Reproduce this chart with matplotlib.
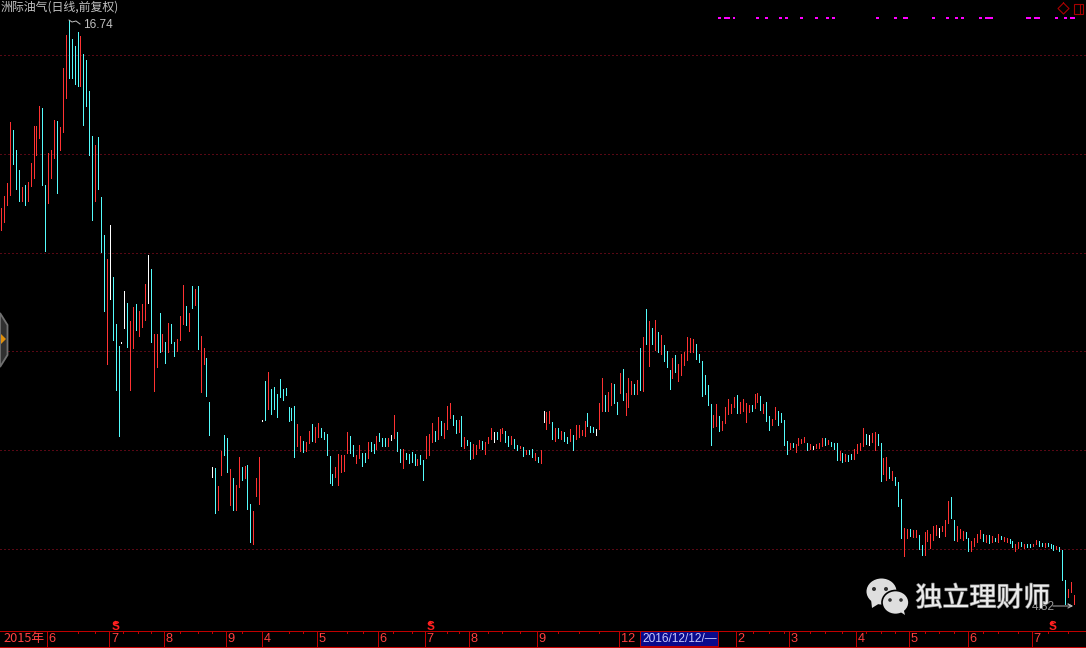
import matplotlib
matplotlib.use("Agg")
import numpy as np
import matplotlib.pyplot as plt
from matplotlib.patches import Ellipse, Polygon, Rectangle
import matplotlib.patheffects as pe

plt.rcParams['lines.scale_dashes'] = False
CJK = ['Noto Sans CJK SC', 'DejaVu Sans']

# ---------- data ----------
highs = [
 12.91,13.15,13.42,14.66,14.50,14.09,13.68,13.34,13.38,13.44,
 13.83,14.58,14.58,14.99,14.95,13.38,14.03,14.09,14.70,14.68,
 14.56,15.76,16.44,16.74,16.35,16.21,16.50,16.41,16.05,15.93,
 15.29,14.37,14.19,14.35,13.13,12.36,11.87,12.56,11.50,10.54,
 10.09,10.17,11.21,10.97,10.60,10.89,10.95,10.81,10.95,11.36,
 11.95,11.66,10.34,10.34,10.77,10.34,10.17,10.56,10.54,10.17,
 10.23,10.71,11.34,10.91,10.77,11.32,11.25,11.32,10.30,10.05,
 9.85,8.95,7.63,7.61,7.24,7.95,8.28,8.22,7.59,7.40,
 7.26,7.83,7.63,7.65,7.67,6.87,6.73,7.40,7.83,8.58,
 9.38,9.56,9.21,9.26,9.11,9.42,9.21,9.24,8.85,8.83,
 8.87,8.50,8.26,8.15,8.13,8.36,8.50,8.44,8.52,8.42,
 8.34,8.30,7.85,7.48,7.63,7.89,7.87,7.87,8.34,8.26,
 8.07,7.87,8.07,7.91,7.91,8.13,8.13,8.09,8.26,8.32,
 8.22,8.22,8.22,8.28,8.69,8.34,7.99,7.99,7.91,7.89,
 7.93,7.89,7.79,7.87,7.77,8.26,8.30,8.52,8.36,8.64,
 8.56,8.52,8.87,8.93,8.69,8.58,8.58,8.66,8.24,8.17,
 8.13,8.09,8.07,8.17,8.15,8.13,8.24,8.42,8.34,8.34,
 8.40,8.42,8.36,8.26,8.26,8.19,8.07,8.05,8.03,7.97,
 7.97,7.99,7.91,7.83,7.97,8.77,8.75,8.77,8.54,8.42,
 8.42,8.36,8.34,8.24,8.40,8.28,8.48,8.48,8.38,8.56,
 8.73,8.46,8.44,8.40,8.93,9.44,9.09,9.15,9.34,9.32,
 8.95,9.54,9.63,9.13,9.44,9.38,9.32,9.40,10.05,10.27,
 10.85,10.60,10.46,10.62,10.38,10.32,10.11,9.99,9.60,9.85,
 9.91,9.73,9.93,9.97,10.27,10.25,10.23,10.13,9.93,9.79,
 9.50,9.30,8.91,8.69,8.91,8.66,8.56,8.85,9.01,8.91,
 9.05,9.09,8.95,9.01,8.93,8.89,8.89,9.11,9.13,9.07,
 8.91,8.95,8.66,8.60,8.85,8.77,8.73,8.58,8.15,8.11,
 8.11,8.09,8.22,8.19,8.24,8.11,8.09,8.05,8.09,8.11,
 8.22,8.22,8.17,8.13,8.11,8.11,7.95,7.91,7.89,7.87,
 7.89,7.99,8.09,8.11,8.42,8.30,8.28,8.32,8.34,8.30,
 8.11,7.81,7.83,7.63,7.54,7.42,7.32,6.97,6.38,6.36,
 6.36,6.34,6.34,6.24,6.03,6.30,6.34,6.26,6.42,6.44,
 6.38,6.42,6.54,6.93,7.01,6.54,6.42,6.36,6.32,6.30,
 6.18,6.11,6.18,6.26,6.34,6.26,6.24,6.24,6.22,6.18,
 6.26,6.22,6.20,6.18,6.15,6.11,6.05,6.09,6.09,6.05,
 6.05,6.05,6.05,6.13,6.11,6.07,6.07,6.07,6.05,6.03,
 6.01,5.99,5.93,5.32,5.13,5.28,5.01]

lows = [
 12.46,12.62,12.97,13.17,13.81,13.29,13.05,13.05,12.97,13.05,
 13.36,13.52,13.99,14.33,13.38,12.03,13.01,13.52,13.93,13.21,
 14.09,14.46,15.15,15.56,15.56,15.44,15.40,15.40,14.60,14.99,
 13.99,12.66,13.05,13.29,12.01,10.81,9.73,11.05,10.21,9.19,
 8.26,10.15,10.46,10.07,9.19,10.05,10.42,10.30,10.48,10.62,
 10.97,10.17,9.17,9.67,9.97,9.99,9.75,9.97,10.15,9.89,
 9.99,10.21,10.54,10.52,10.40,10.87,10.93,10.03,9.15,9.73,
 9.07,8.28,7.42,6.69,6.75,7.46,7.87,7.52,6.85,6.75,
 6.75,7.22,7.36,7.40,6.77,6.09,6.05,7.03,6.87,8.56,
 8.58,8.81,8.71,8.81,8.64,9.05,8.99,9.09,8.56,8.58,
 7.83,8.05,7.95,7.93,7.95,8.11,8.15,8.13,8.24,8.24,
 8.19,7.87,7.30,7.26,7.42,7.26,7.52,7.54,7.91,7.91,
 7.85,7.71,7.81,7.65,7.73,7.81,7.95,7.91,7.99,8.15,
 8.05,8.05,8.05,8.17,8.22,7.95,7.73,7.61,7.79,7.71,
 7.73,7.67,7.67,7.69,7.36,7.81,7.87,8.13,8.15,8.19,
 8.28,8.22,8.40,8.62,8.48,8.32,8.34,8.05,8.01,8.07,
 7.79,7.81,7.89,8.01,7.99,7.89,8.11,8.19,8.13,8.19,
 8.15,8.32,8.13,8.05,8.09,8.01,7.97,8.01,7.85,7.89,
 7.89,7.83,7.77,7.73,7.71,8.54,8.40,8.52,8.19,8.15,
 8.22,8.19,8.15,8.11,8.15,7.97,8.19,8.24,8.28,8.26,
 8.46,8.34,8.34,8.28,8.40,8.77,8.77,8.77,8.89,8.93,
 8.71,9.13,8.99,8.69,8.85,9.11,9.11,9.11,9.19,9.17,
 10.13,9.69,10.13,10.01,9.97,9.93,9.79,9.67,9.21,9.44,
 9.56,9.38,9.50,9.71,9.81,9.97,9.97,9.83,9.77,9.07,
 9.11,8.89,8.07,8.44,8.46,8.36,8.38,8.52,8.71,8.73,
 8.85,8.73,8.73,8.77,8.54,8.75,8.77,8.83,8.95,8.79,
 8.73,8.56,8.38,8.48,8.60,8.48,8.54,8.07,7.89,7.99,
 8.03,7.93,8.07,8.11,8.13,7.97,7.99,7.99,8.01,8.01,
 8.05,8.07,8.09,8.05,7.99,7.77,7.77,7.73,7.75,7.75,
 7.79,7.79,7.91,7.97,8.05,8.09,8.07,8.13,7.97,8.07,
 7.34,7.48,7.36,7.40,7.36,7.26,6.83,6.18,5.81,6.18,
 6.22,6.20,6.20,5.95,5.83,5.83,6.11,5.97,6.13,6.24,
 6.20,6.32,6.22,6.48,6.59,6.13,6.11,6.18,6.13,6.18,
 5.91,5.91,6.01,6.09,6.18,6.11,6.09,6.07,6.09,6.11,
 6.09,6.15,6.11,6.09,6.07,5.99,5.91,5.97,6.01,5.97,
 5.99,5.99,6.01,6.05,6.01,6.01,5.99,6.01,5.97,5.93,
 5.95,5.91,5.32,4.83,4.97,5.07,4.82]

directions = (
 "rrrrcccrcr" "rrrrccrrrc" "rrrccccrcc" "ccrcccrwcc" "cwwcrrcrrr"
 "wcrrcrcrcc" "rrrcrcrcrr" "ccwcrrccrc" "rrcrccrrrw" "crcccccccc"
 "crrcrrcrrc" "ccccrrrrrc" "crrccrccrc" "ccrwrccrcc" "ccrccrrrcr"
 "crrrccrcrc" "crrrcrrrwc" "rrccrccrcr" "ccrcrwrrcr" "crccrcrrrr"
 "cccwrrcrrc" "crcrrrcrcr" "crcrcrcccr" "crrrrrrccc" "cccrrcrrrr"
 "rcrrrrcrrc" "rccrrccccr" "crrrrcrwrr" "rcrcccrcrc" "crrrrcwrrc"
 "crrcrcccrr" "crrccrrrrr" "wrrrccrrrc" "crrrrcrcrc" "rcrrccrrcr"
 "ccrrccrccc" "rcccrrr"
)

signal_bars = [245,247,248,250,258,261,266,268,273,278,282,284,299,305,308,309,
               318,323,326,328,334,336,337,338,350,351,353,354,360,363,365,366]
signal_level = 16.78

grid_levels = [16.02, 14.00, 11.98, 9.98, 7.96, 5.96]

month_labels = ['2015年','6','7','8','9','4','5','6','7','8','9','12','2','3','4','5','6','7']
month_bars = [0,15.6,36.8,55.5,76.7,89.0,107.7,128.5,144.6,159.6,182.8,210.7,250.7,268.8,291.6,309.7,329.8,351.7]
minor_bars = [26,32,41.5,46.5,51,61,67,72,82,98,103,118,123.5,133.5,140,152,156,166,171,177,190,197,204,
              256.5,262,267,276,281,287,295,300,305,315,320,325,335,340,347,357,364]
selected_label = '2016/12/12/—'
selected_span = (217.9, 244.7)
sell_bars = [39, 146.3, 358.5]
hi_label, lo_label = '16.74', '4.82'

RED, CYAN, WHITE = '#ff3232', '#54fcfc', '#ffffff'
palette = {'r': RED, 'c': CYAN, 'w': WHITE}

# ---------- figure ----------
fig = plt.figure(figsize=(10.86, 6.48), dpi=100, facecolor='black')
ax = fig.add_axes([0, 18/648, 1, 630/648], facecolor='black')
ax.axis('off')
x0, x1 = -0.4435, 370.1
ax.set_xlim(x0, x1)
ax.set_ylim(4.298, 17.15)

# dotted guides: one pixel every four pixels
ax.hlines(grid_levels, x0, x1, colors='#b01028', lw=0.72, linestyles=(0, (0.72, 2.16)),
          capstyle='butt', antialiased=True)

bars = range(len(highs))
ax.vlines(list(bars), lows, highs, colors=[palette[d] for d in directions], lw=0.72, antialiased=False, zorder=3)
ax.hlines([signal_level]*len(signal_bars), [b-0.5 for b in signal_bars], [b+0.5 for b in signal_bars],
          colors='#ff00ff', lw=1.44, antialiased=False)

# date strip, on the same bar scale
st = fig.add_axes([0, 0, 1, 18/648], facecolor='black')
st.axis('off')
st.set_xlim(x0, x1); st.set_ylim(18, 0)
DR = '#c00000'
st.hlines([0.5, 16.5], x0, x1, colors=DR, lw=0.72, antialiased=False)
st.vlines(month_bars[1:], 0.5, 16.5, colors=DR, lw=0.72, antialiased=False)
st.vlines(minor_bars, 0.5, 3, colors=DR, lw=0.72, antialiased=False)
st.add_patch(Rectangle((selected_span[0], 1), selected_span[1]-selected_span[0], 15, fc='#0a0a8c', ec=DR, lw=0.7))
st.text(selected_span[0]+0.7, 8.8, selected_label, color='#c8c8ff', fontsize=8.6, family='Liberation Sans', va='center', ha='left')
for lab, b in zip(month_labels, month_bars):
    st.text(b+0.6, 8.8, lab, color='#ff4040', fontsize=9.2, family=CJK if '年' in lab else 'Liberation Sans', va='center', ha='left')

# pixel overlay for screen furniture
ov = fig.add_axes([0, 0, 1, 1], facecolor='none')
ov.axis('off'); ov.set_xlim(0, 1086); ov.set_ylim(648, 0)
GREY = '#c0c0c0'
ov.text(0.5, 7.5, '洲际油气(日线,前复权)', color=GREY, fontsize=8.6, family=CJK, va='center', ha='left')
ov.plot([69, 72, 76, 80], [20, 22, 21, 24], color=GREY, lw=0.7)
ov.text(83, 25, hi_label, color=GREY, fontsize=8.6, family='Liberation Sans', va='center', ha='left')
ov.text(1032, 607, lo_label, color='#9a9a9a', fontsize=8.6, family='Liberation Sans', va='center', ha='left')
ov.plot([1053, 1072, 1068, 1072, 1068], [606, 606, 604, 606, 608], color='#b0b0b0', lw=0.7)

for bx in sell_bars:
    px = 1.3 + 2.931*bx
    ov.add_patch(Polygon([(px-2.5, 624), (px, 620.5), (px+2.5, 624)], fc='#ff2020', ec='none'))
    ov.text(px, 627, 'S', color='#ff2020', fontsize=8.5, fontweight='bold', family='Liberation Sans', va='center', ha='center')

# top-right buttons and right edge
ov.plot([1063.5, 1069, 1063.5, 1058, 1063.5], [3, 8.5, 14, 8.5, 3], color='#a80000', lw=0.8)
ov.add_patch(Rectangle((1073.5, 3.5), 9, 10, fc='none', ec='#a80000', lw=0.8))
ov.plot([1079.5, 1079.5], [3.5, 13.5], color='#a80000', lw=0.8)
ov.plot([1085.5, 1085.5], [0, 630], color='#a00000', lw=0.72)

# left handle
ov.add_patch(Polygon([(0, 313), (7.5, 325), (7.5, 355), (0, 367)], fc='#303030', ec='#707070', lw=1.3))
ov.add_patch(Polygon([(1, 334), (6, 339), (1, 344)], fc='#e0900c', ec='none'))

# watermark
WM = '#dedede'
ov.add_patch(Ellipse((881.5, 591.5), 30, 26, fc=WM, ec='none', zorder=5))
ov.add_patch(Polygon([(871, 599), (872, 608), (880, 603)], fc=WM, ec='none', zorder=5))
for cx, cy in [(874, 589), (886, 589)]:
    ov.add_patch(Ellipse((cx, cy), 4, 4, fc='#303030', ec='none', zorder=6))
ov.add_patch(Ellipse((895.5, 602.5), 27, 24, fc=WM, ec='black', lw=1.2, zorder=7))
ov.add_patch(Polygon([(899, 611), (905, 615), (903, 607)], fc=WM, ec='none', zorder=7))
for cx, cy in [(890, 600), (901, 600)]:
    ov.add_patch(Ellipse((cx, cy), 3.6, 3.6, fc='#303030', ec='none', zorder=8))
ov.text(915.5, 598.5, '独立理财师', color='#ececec', fontsize=19.4, family=CJK, va='center', ha='left', zorder=9,
        path_effects=[pe.withStroke(linewidth=1.0, foreground='#8c8c8c')])

fig.savefig('out.png', dpi=100, facecolor='black')
